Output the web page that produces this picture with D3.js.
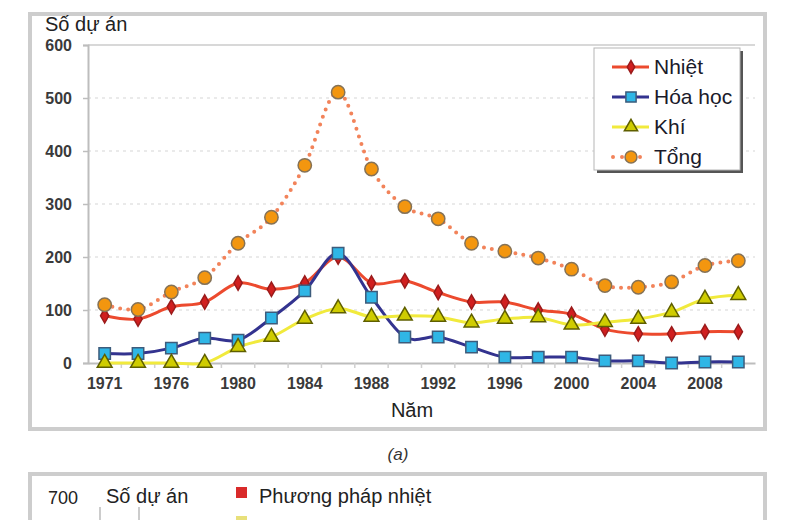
<!DOCTYPE html>
<meta charset="utf-8">
<style>
body { margin: 0; background: #fff; }
text { font-family: "Liberation Sans", Arial, sans-serif; }
.ylab text, .xlab text { fill: #3a3a3a; }
</style>
<body>
<script src="https://d3js.org/d3.v7.min.js"></script>
<script>

// categories (x axis) and the labels that are shown
var years = ["1971","1974","1976","1978","1980","1982","1984","1986","1988","1990",
             "1992","1994","1996","1998","2000","2002","2004","2006","2008","2010"];
var shownYears = ["1971","1976","1980","1984","1988","1992","1996","2000","2004","2008"];
var yTicks = [0, 100, 200, 300, 400, 500, 600];

// series values
var nhiet  = [89, 83, 106, 115, 151, 139, 151, 200, 151, 155, 133, 115, 115, 100, 92, 64, 55, 55, 59, 59];
var hoaHoc = [18, 18, 28, 47, 43, 85, 136, 207, 124, 49, 49, 30, 11, 11, 11, 4, 4, 0, 2, 2];
var khi    = [0, 0, 0, 0, 30, 49, 83, 103, 87, 89, 87, 76, 83, 86, 72, 77, 83, 96, 121, 128];
var tong   = [110, 101, 134, 161, 226, 275, 373, 511, 366, 295, 272, 226, 211, 198, 177, 146, 143, 153, 184, 193];

var seriesNames = ["Nhiệt", "Hóa học", "Khí", "Tổng"];

var W = 800, H = 520;
var plot = {left: 88, right: 755, top: 45, bottom: 363};

var svg = d3.select("body").append("svg")
    .attr("width", W)
    .attr("height", H);

svg.append("rect").attr("width", W).attr("height", H).attr("fill", "#fff");

// outer frame of chart (a)
svg.append("rect")
    .attr("x", 30).attr("y", 14)
    .attr("width", 735).attr("height", 415)
    .attr("fill", "none")
    .attr("stroke", "#cdcdcd")
    .attr("stroke-width", 4);

var x = d3.scaleBand()
    .domain(years)
    .range([plot.left, plot.right])
    .padding(0);

var y = d3.scaleLinear()
    .domain([0, 600])
    .range([plot.bottom, plot.top]);

var cx = function(i) { return x(years[i]) + x.bandwidth() / 2; };

// grid lines
svg.append("g").selectAll("line")
    .data(yTicks.filter(function(d) { return d > 0; }))
  .enter().append("line")
    .attr("x1", plot.left).attr("x2", plot.right)
    .attr("y1", function(d) { return y(d); })
    .attr("y2", function(d) { return y(d); })
    .attr("stroke", function(d) { return d == 600 ? "#d8d8d8" : "#e4e4e4"; })
    .attr("stroke-width", function(d) { return d == 600 ? 2 : 1.5; })
    .attr("stroke-dasharray", function(d) { return d == 600 ? null : "3 4"; });

// y axis
var yAxis = svg.append("g")
    .attr("class", "ylab")
    .attr("transform", "translate(" + plot.left + ",0)")
    .call(d3.axisLeft(y).tickValues(yTicks).tickSize(5).tickPadding(11));
yAxis.select(".domain").attr("stroke", "#bdbdbd").attr("stroke-width", 2);
yAxis.selectAll(".tick line").attr("stroke", "#bdbdbd").attr("stroke-width", 1.5);
yAxis.selectAll("text").attr("font-size", 16).attr("font-weight", "bold").attr("fill", "#474747");

// x axis, labels on category centres, ticks on category boundaries
var xAxis = svg.append("g")
    .attr("class", "xlab")
    .attr("transform", "translate(0," + plot.bottom + ")")
    .call(d3.axisBottom(x).tickSize(0).tickPadding(15)
      .tickFormat(function(d) { return shownYears.indexOf(d) >= 0 ? d : ""; }));
xAxis.select(".domain").attr("stroke", "#bdbdbd").attr("stroke-width", 2);
xAxis.selectAll("text").attr("font-size", 16).attr("font-weight", "bold").attr("fill", "#474747");

svg.append("g").selectAll("line")
    .data(years.slice(1))
  .enter().append("line")
    .attr("x1", function(d) { return x(d); })
    .attr("x2", function(d) { return x(d); })
    .attr("y1", plot.bottom).attr("y2", plot.bottom + 5)
    .attr("stroke", "#cfcfcf").attr("stroke-width", 1.5);

// axis titles
svg.append("text")
    .attr("x", 45).attr("y", 31)
    .attr("font-size", 20)
    .attr("fill", "#222")
    .text("Số dự án");

svg.append("text")
    .attr("x", 412).attr("y", 417)
    .attr("text-anchor", "middle")
    .attr("font-size", 20)
    .attr("fill", "#222")
    .text("Năm");

// series styles
var styles = [
  {values: nhiet,  line: "#ec4a2e", width: 3, dash: null, shape: d3.symbolDiamond, size: 60, fill: "#d11f1f", stroke: "#9b1b1b"},
  {values: hoaHoc, line: "#33338f", width: 3, dash: null, shape: d3.symbolSquare, size: 130, fill: "#2fb6e6", stroke: "#3d5c7c"},
  {values: khi,    line: "#f1ea3c", width: 3, dash: null, shape: d3.symbolTriangle, size: 95, fill: "#cfcc00", stroke: "#5f5f00"},
  {values: tong,   line: "#f2835a", width: 4, dash: "0 8", shape: d3.symbolCircle, size: 140, fill: "#f3960f", stroke: "#857257"}
];

var line = d3.line()
    .x(function(d, i) { return cx(i); })
    .y(function(d) { return y(d); })
    .curve(d3.curveCardinal.tension(0));

styles.forEach(function(s) {
  svg.append("path")
      .datum(s.values)
      .attr("d", line)
      .attr("fill", "none")
      .attr("stroke", s.line)
      .attr("stroke-width", s.width)
      .attr("stroke-linecap", s.dash ? "round" : "butt")
      .attr("stroke-dasharray", s.dash);
});

styles.forEach(function(s) {
  svg.append("g").selectAll("path")
      .data(s.values)
    .enter().append("path")
      .attr("transform", function(d, i) { return "translate(" + cx(i) + "," + y(d) + ")"; })
      .attr("d", d3.symbol().type(s.shape).size(s.size))
      .attr("fill", s.fill)
      .attr("stroke", s.stroke)
      .attr("stroke-width", 1.5);
});

// legend
var lg = svg.append("g");
lg.append("rect")
    .attr("x", 597).attr("y", 51)
    .attr("width", 146).attr("height", 122)
    .attr("fill", "#555");
lg.append("rect")
    .attr("x", 594).attr("y", 48)
    .attr("width", 146).attr("height", 122)
    .attr("fill", "#fff")
    .attr("stroke", "#b5b5b5")
    .attr("stroke-width", 1);

styles.forEach(function(s, i) {
  var ly = 67 + i * 30;
  lg.append("line")
      .attr("x1", 612).attr("x2", 649)
      .attr("y1", ly).attr("y2", ly)
      .attr("stroke", s.line)
      .attr("stroke-width", s.width)
      .attr("stroke-linecap", s.dash ? "round" : "butt")
      .attr("stroke-dasharray", s.dash ? "0 9" : null)
      .attr("stroke-dashoffset", s.dash ? -1 : null);
  lg.append("path")
      .attr("transform", "translate(631," + ly + ")")
      .attr("d", d3.symbol().type(s.shape).size(s.size * 0.8))
      .attr("fill", s.fill)
      .attr("stroke", s.stroke)
      .attr("stroke-width", 1.5);
  lg.append("text")
      .attr("x", 654).attr("y", ly + 7)
      .attr("font-size", 21)
      .attr("fill", "#1a1a2a")
      .text(seriesNames[i]);
});

// caption
svg.append("text")
    .attr("x", 398).attr("y", 460)
    .attr("text-anchor", "middle")
    .attr("font-size", 17)
    .attr("font-style", "italic")
    .attr("fill", "#333")
    .text("(a)");

// top of chart (b), cut off by the picture edge
svg.append("rect")
    .attr("x", 30).attr("y", 474)
    .attr("width", 735).attr("height", 80)
    .attr("fill", "none")
    .attr("stroke", "#cdcdcd")
    .attr("stroke-width", 4);

svg.append("text")
    .attr("x", 48).attr("y", 504)
    .attr("font-size", 18)
    .attr("fill", "#222")
    .text("700");

svg.append("text")
    .attr("x", 106).attr("y", 503)
    .attr("font-size", 20)
    .attr("fill", "#222")
    .text("Số dự án");

svg.append("g").selectAll("line")
    .data([100, 139])
  .enter().append("line")
    .attr("x1", function(d) { return d; })
    .attr("x2", function(d) { return d; })
    .attr("y1", 507).attr("y2", 520)
    .attr("stroke", "#999").attr("stroke-width", 1);

var legendB = ["Phương pháp nhiệt"];
var colorsB = ["#d92a2a"];
legendB.forEach(function(t, i) {
  svg.append("rect")
      .attr("x", 236).attr("y", 487 + i * 30)
      .attr("width", 11).attr("height", 11)
      .attr("fill", colorsB[i]);
  svg.append("text")
      .attr("x", 259).attr("y", 503 + i * 30)
      .attr("font-size", 20)
      .attr("fill", "#222")
      .text(t);
});

// marker of the next legend row, only its top shows
svg.append("rect")
    .attr("x", 236).attr("y", 516)
    .attr("width", 11).attr("height", 11)
    .attr("fill", "#e8e07a");

</script>
</body>
